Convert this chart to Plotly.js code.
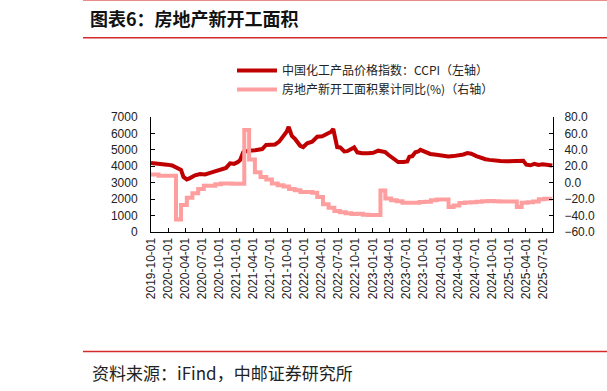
<!DOCTYPE html>
<html>
<head>
<meta charset="utf-8">
<script src="https://cdn.plot.ly/plotly-3.0.1.min.js"></script>
<style>
html,body{margin:0;padding:0;background:#fff;}
#chart{width:607px;height:391px;}
</style>
</head>
<body>
<div id="chart"></div>
<script>
// CCPI (left axis)
const ccpiDates = ["2019-10-01","2019-11-18","2019-12-26","2020-01-22","2020-02-18","2020-03-10","2020-03-23","2020-04-10","2020-04-27","2020-05-24","2020-06-20","2020-07-17","2020-08-13","2020-09-14","2020-10-16","2020-11-06","2020-11-28","2020-12-19","2021-01-07","2021-01-21","2021-02-06","2021-03-05","2021-04-11","2021-05-19","2021-06-09","2021-07-01","2021-07-27","2021-08-18","2021-09-08","2021-09-27","2021-10-08","2021-10-25","2021-11-12","2021-12-09","2021-12-25","2022-01-15","2022-02-11","2022-03-10","2022-04-06","2022-05-03","2022-05-24","2022-06-04","2022-06-14","2022-06-25","2022-07-11","2022-08-02","2022-08-18","2022-09-03","2022-09-24","2022-10-11","2022-11-06","2022-12-09","2023-01-04","2023-01-31","2023-02-22","2023-03-10","2023-03-26","2023-04-11","2023-05-02","2023-05-18","2023-06-14","2023-07-06","2023-07-17","2023-08-02","2023-08-18","2023-09-03","2023-09-14","2023-10-11","2023-11-06","2023-12-09","2024-01-10","2024-02-11","2024-03-09","2024-04-05","2024-05-02","2024-05-23","2024-06-13","2024-07-10","2024-08-01","2024-08-28","2024-09-18","2024-10-15","2024-11-16","2024-12-18","2025-01-20","2025-02-21","2025-03-19","2025-04-04","2025-04-26","2025-05-17","2025-06-08","2025-06-30","2025-07-26","2025-08-21"];
const ccpiValues = [4200,4110,4100,4050,3900,3780,3350,3200,3280,3450,3530,3500,3600,3700,3820,3900,4180,4150,4250,4380,4850,4950,4980,5050,5300,5300,5330,5500,5800,6100,6400,5850,5650,5250,5170,5400,5500,5800,5830,5980,6100,6270,5750,5170,5150,4900,4920,5050,5150,4850,4800,4800,4820,4950,4930,4860,4700,4550,4400,4260,4260,4300,4580,4620,4850,4900,5000,4840,4750,4700,4620,4600,4620,4650,4720,4800,4760,4620,4520,4430,4390,4330,4320,4300,4320,4350,4330,4100,4060,4150,4080,4120,4060,4050];

// 房地产新开工面积累计同比 (right axis, %)
const startsDates = ["2019-10-01","2019-11-10","2019-12-10","2020-02-12","2020-03-10","2020-04-10","2020-05-10","2020-06-10","2020-07-10","2020-08-10","2020-09-10","2020-10-10","2020-11-10","2020-12-10","2021-02-12","2021-03-10","2021-04-10","2021-05-10","2021-06-10","2021-07-10","2021-08-10","2021-09-10","2021-10-10","2021-11-10","2021-12-10","2022-02-12","2022-03-10","2022-04-10","2022-05-10","2022-06-10","2022-07-10","2022-08-10","2022-09-10","2022-10-10","2022-11-10","2022-12-10","2023-02-12","2023-03-10","2023-04-10","2023-05-10","2023-06-10","2023-07-10","2023-08-10","2023-09-10","2023-10-10","2023-11-10","2023-12-10","2024-02-12","2024-03-10","2024-04-10","2024-05-10","2024-06-10","2024-07-10","2024-08-10","2024-09-10","2024-10-10","2024-11-10","2024-12-10","2025-02-12","2025-03-10","2025-04-10","2025-05-10","2025-06-10","2025-07-10","2025-08-21"];
const startsValues = [10.0,8.6,8.5,-44.9,-27.2,-18.4,-12.8,-7.6,-3.6,-3.6,-1.9,-0.9,-1.0,-1.2,64.3,28.2,12.8,6.9,3.8,-0.9,-3.2,-4.5,-7.7,-9.1,-11.4,-12.2,-17.5,-26.3,-30.6,-34.4,-36.1,-37.2,-38.0,-37.8,-38.9,-39.4,-9.4,-19.2,-21.2,-22.6,-24.3,-24.5,-24.4,-23.4,-23.2,-21.2,-20.4,-29.7,-27.8,-24.6,-24.2,-23.7,-23.2,-22.5,-22.2,-22.6,-23.0,-23.0,-29.6,-24.4,-23.8,-22.8,-20.0,-19.4,-19.4];

const xTickLabels = ["2019-10-01","2020-01-01","2020-04-01","2020-07-01","2020-10-01","2021-01-01","2021-04-01","2021-07-01","2021-10-01","2022-01-01","2022-04-01","2022-07-01","2022-10-01","2023-01-01","2023-04-01","2023-07-01","2023-10-01","2024-01-01","2024-04-01","2024-07-01","2024-10-01","2025-01-01","2025-04-01","2025-07-01"];

const seriesNames = ["中国化工产品价格指数：CCPI（左轴）","房地产新开工面积累计同比(%)（右轴）"];
const titleText = "图表6：房地产新开工面积";
const sourceText = "资料来源：iFind，中邮证券研究所";

// geometry helpers (pixels -> paper)
const W = 607, H = 391, L = 151, R = 553, T = 117.3, B = 232;
const px = x => (x - L) / (R - L);
const py = y => (B - y) / (B - T);

const tickFont = {family: "Liberation Sans, Arial, sans-serif", size: 12, color: "#222"};
const cjk = "Noto Sans CJK SC, sans-serif";

const traces = [
  {x: ccpiDates, y: ccpiValues, name: seriesNames[0], type: "scatter", mode: "lines",
   line: {color: "#C00000", width: 4}, yaxis: "y"},
  {x: startsDates, y: startsValues, name: seriesNames[1], type: "scatter", mode: "lines",
   line: {color: "#FF9E9E", width: 4, shape: "hv"}, yaxis: "y2"}
];

const layout = {
  width: W, height: H,
  margin: {l: L, r: W - R, t: T, b: H - B, pad: 0},
  paper_bgcolor: "#fff", plot_bgcolor: "#fff",
  showlegend: true,
  legend: {x: px(232), y: py(56.5), xanchor: "left", yanchor: "top",
           font: {family: cjk, size: 12, color: "#222"}, itemwidth: 40,
           bgcolor: "rgba(0,0,0,0)", tracegroupgap: 0},
  title: {text: "<b>" + titleText + "</b>", xref: "container", yref: "container",
          x: 90 / W, y: 1 - 20 / H, xanchor: "left", yanchor: "middle",
          font: {family: cjk, size: 18, color: "#111"}},
  xaxis: {type: "date", range: ["2019-10-01", "2025-08-25"],
          tickmode: "array", tickvals: xTickLabels, ticktext: xTickLabels,
          tickangle: -90, ticks: "inside", ticklen: 4, tickcolor: "#000",
          showline: true, linecolor: "#000", linewidth: 1, showgrid: false, zeroline: false,
          tickfont: tickFont, fixedrange: true},
  yaxis: {range: [0, 7000], dtick: 1000, tick0: 0, ticks: "inside", ticklen: 4, tickcolor: "#000",
          showline: true, linecolor: "#000", linewidth: 1, showgrid: false, zeroline: false,
          tickfont: tickFont, ticklabelstandoff: 10},
  yaxis2: {range: [-60, 80], dtick: 20, tick0: -60, tickformat: ".1f", overlaying: "y", side: "right",
           ticks: "inside", ticklen: 4, tickcolor: "#000",
           showline: true, linecolor: "#000", linewidth: 1, showgrid: false, zeroline: false,
           tickfont: tickFont, ticklabelstandoff: 8},
  shapes: [
    {type: "line", xref: "paper", yref: "paper", x0: px(83), x1: px(607), y0: py(0.7), y1: py(0.7),
     line: {color: "#E06666", width: 1.5}},
    {type: "line", xref: "paper", yref: "paper", x0: px(83), x1: px(607), y0: py(38.3), y1: py(38.3),
     line: {color: "#D42A2A", width: 1.5}},
    {type: "line", xref: "paper", yref: "paper", x0: px(83), x1: px(607), y0: py(351.3), y1: py(351.3),
     line: {color: "#D42A2A", width: 1.5}}
  ],
  annotations: [
    {text: sourceText, xref: "paper", yref: "paper", x: px(90), y: py(372),
     xanchor: "left", yanchor: "middle", showarrow: false,
     font: {family: cjk, size: 17, color: "#222"}}
  ]
};

Plotly.newPlot("chart", traces, layout, {displayModeBar: false, staticPlot: true});
</script>
</body>
</html>
